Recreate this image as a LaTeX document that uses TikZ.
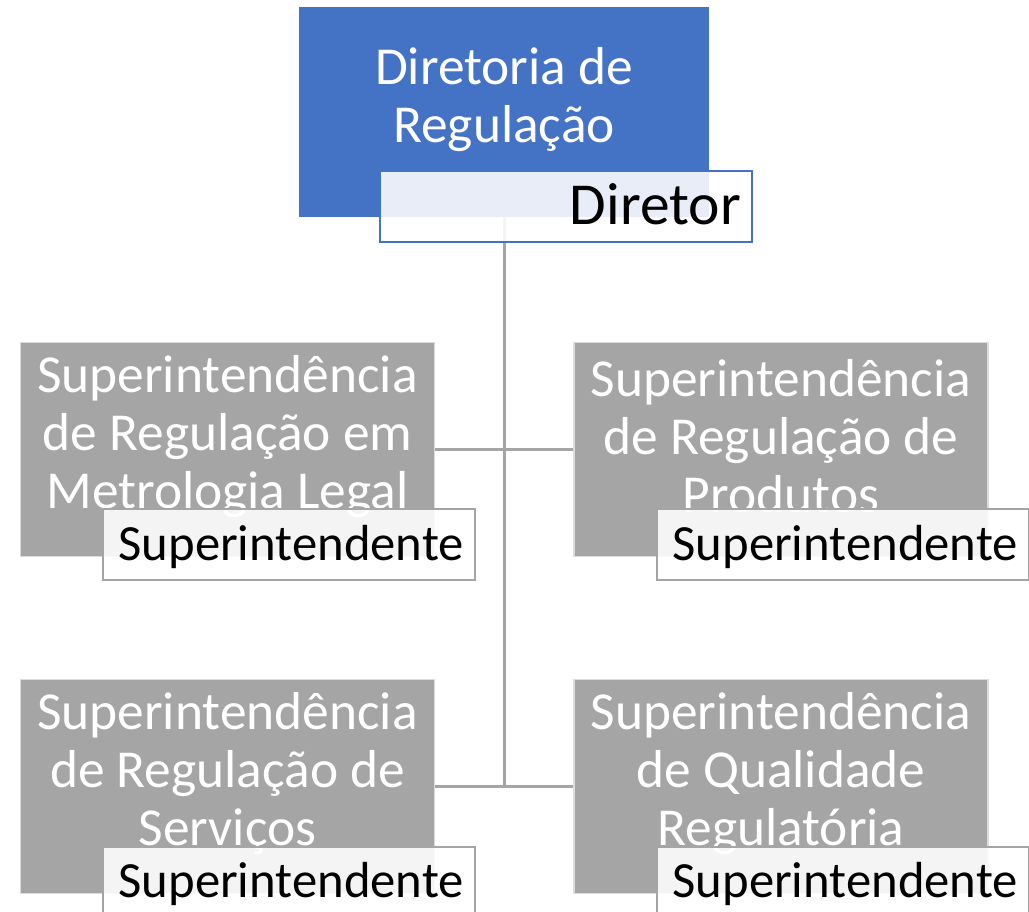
\documentclass[tikz,border=0pt]{standalone}
\usepackage{fontspec}
\setmainfont{Carlito}
\usepackage{tikz}
\usetikzlibrary{positioning, calc}
\definecolor{acblue}{HTML}{4472C4}
\definecolor{acgray}{HTML}{A5A5A5}
\definecolor{acrim}{HTML}{DCDCDC}

\begin{document}
\begin{tikzpicture}[x=1pt,y=-1pt]
	\def \colleft{227.5}
	\def \colright{781}
	\def \rowone{449.5}
	\def \rowtwo{786.5}
	\tikzstyle{dir-node}=[rectangle,fill=acblue,minimum width=410pt,minimum height=210pt,inner sep=0pt]
	\tikzstyle{sup-node}=[rectangle,fill=acgray,draw=acrim,line width=1.5pt,minimum width=414pt,minimum height=214pt,inner sep=0pt]
	\tikzstyle{txt-node}=[text=white,align=center,font=\fontsize{53.4}{58}\selectfont]
	\tikzstyle{tit-node}=[rectangle,fill=white,fill opacity=0.88,text opacity=1,draw=acgray,line width=2pt,minimum width=372pt,minimum height=71pt,inner sep=0pt]
	\tikzstyle{tit-lbl}=[anchor=base east,inner sep=0pt,font=\fontsize{50.7}{58}\selectfont]
	\tikzstyle{conn}=[draw=acgray,line width=3pt]
	\useasboundingbox (0,0) rectangle (1029,912);

	% diretoria
	\node[dir-node] (dir) at (504,112) {};
	\node[txt-node] (dirtxt) at ([yshift=12pt]dir.center) {Diretoria de\\Regulação};

	% superintendencias
	\node[sup-node] (sup1) at (\colleft,\rowone) {};
	\node[sup-node] (sup2) at (\colright,\rowone) {};
	\node[sup-node] (sup3) at (\colleft,\rowtwo) {};
	\node[sup-node] (sup4) at (\colright,\rowtwo) {};
	\node[txt-node] (sup1txt) at ([yshift=13pt]sup1.center) {Superintendência\\de Regulação em\\Metrologia Legal};
	\node[txt-node] (sup2txt) at ([yshift=13pt]sup2.center) {Superintendência\\de Regulação de\\Produtos};
	\node[txt-node] (sup3txt) at ([yshift=13pt]sup3.center) {Superintendência\\de Regulação de\\Serviços};
	\node[txt-node] (sup4txt) at ([yshift=13pt]sup4.center) {Superintendência\\de Qualidade\\Regulatória};

	% conectores
	\coordinate (jn) at (dir.south |- sup3.east);
	\draw[conn] (dir.south) -- (jn);
	\draw[conn] (sup1.east) -- (sup2.west);
	\draw[conn] (sup3.east) -- (sup4.west);

	% titulares
	\node[tit-node,draw=acblue] (ttl0) at (566,207) {};
	\node[tit-node] (ttl1) at (289,544) {};
	\node[tit-node] (ttl2) at (843,544) {};
	\node[tit-node] (ttl3) at (289,882) {};
	\node[tit-node] (ttl4) at (843,882) {};
	\node[tit-lbl,font=\fontsize{59.5}{62}\selectfont] (ttl0txt) at (741,225) {Diretor};
	\node[tit-lbl] (ttl1txt) at (464,560) {Superintendente};
	\node[tit-lbl] (ttl2txt) at (1018,560) {Superintendente};
	\node[tit-lbl] (ttl3txt) at (464,897) {Superintendente};
	\node[tit-lbl] (ttl4txt) at (1018,897) {Superintendente};
\end{tikzpicture}
\end{document}
